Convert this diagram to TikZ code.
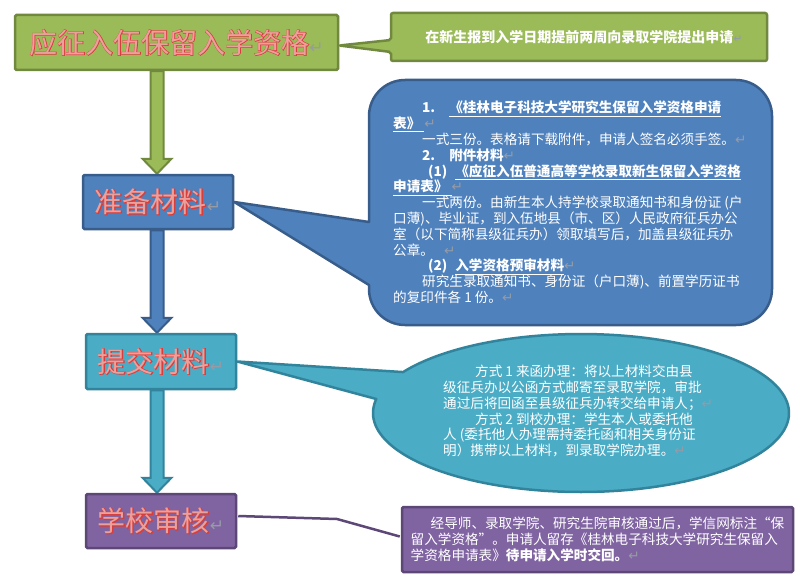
\documentclass[tikz,border=0pt]{standalone}
\usepackage{fontspec}
\setmainfont{Noto Sans CJK SC}
\newfontfamily\symfont{DejaVu Sans}
\newfontfamily\thickcjk[FakeBold=3.5]{Noto Sans CJK SC}
\usetikzlibrary{calc,backgrounds}
\definecolor{gfill}{HTML}{9BBB59}
\definecolor{gline}{HTML}{71893F}
\definecolor{bfill}{HTML}{4F81BD}
\definecolor{bline}{HTML}{385D8A}
\definecolor{tfill}{HTML}{4BACC6}
\definecolor{tline}{HTML}{31849B}
\definecolor{pfill}{HTML}{8064A2}
\definecolor{pline}{HTML}{5C4776}
\definecolor{titlered}{RGB}{214,62,62}
\definecolor{titlepink}{RGB}{236,160,155}
\definecolor{retgray}{RGB}{150,155,165}
\newcommand\retmark[1][]{{\symfont\mdseries\color{retgray}#1↵}}
\newcommand\outlined[1]{{\color{titlered}\rlap{\thickcjk #1}}{\color{titlepink}#1}}
\newcommand\blockarrow[3]{%
  \draw[#3, line width=2pt, line join=miter]
    ($(#1)+(-6.5,0)$) -- ($(#2)+(-6.5,-15)$) -- ($(#2)+(-14.5,-15)$) -- (#2)
    -- ($(#2)+(14.5,-15)$) -- ($(#2)+(6.5,-15)$) -- ($(#1)+(6.5,0)$) -- cycle;}
\begin{document}
\begin{tikzpicture}[x=1pt,y=-1pt,
  stagebox/.style={draw, line width=2.5pt, rounded corners=1.5pt, inner sep=0pt,
    minimum width=150, minimum height=54, font=\fontsize{28}{30}\selectfont},
  bodytext/.style={text=white, font=\fontsize{13.6}{15.8}\selectfont, align=left, inner sep=0pt},
]
\useasboundingbox (0,0) rectangle (805,583);

% stage boxes
\node[stagebox, fill=gfill, draw=gline, minimum width=323, minimum height=55] (b1) at (176.5,42.5)
  {\outlined{应征入伍保留入学资格}\retmark[\fontsize{17}{17}\selectfont]};
\node[stagebox, fill=bfill, draw=bline] (b2) at (158,202)
  {\outlined{准备材料}\retmark[\fontsize{17}{17}\selectfont]};
\node[stagebox, fill=tfill, draw=tline, minimum height=55] (b3) at (161,361.5)
  {\outlined{提交材料}\retmark[\fontsize{17}{17}\selectfont]};
\node[stagebox, fill=pfill, draw=pline] (b4) at (161,521)
  {\outlined{学校审核}\retmark[\fontsize{17}{17}\selectfont]};

% callout texts
\node[text=white, inner sep=0pt, font=\bfseries\fontsize{14}{16}\selectfont] (gtext) at (584,37)
  {在新生报到入学日期提前两周向录取学院提出申请\retmark[\fontsize{11}{11}\selectfont]};

\node[bodytext, anchor=north west] (btext) at (393,101) {%
\hspace*{29pt}\textbf{1.\hspace{14pt}\underline{《桂林电子科技大学研究生保留入学资格申请}}\\
\textbf{\underline{表》\hspace{4pt}}}\retmark\\
\hspace*{29pt}一式三份。表格请下载附件，申请人签名必须手签。\retmark\\
\hspace*{29pt}\textbf{2.\hspace{14pt}附件材料}\retmark\\
\hspace*{35pt}\textbf{(1)\hspace{8pt}\underline{《应征入伍普通高等学校录取新生保留入学资格}}\\
\textbf{\underline{申请表》\hspace{4pt}}}\retmark\\
\hspace*{29pt}一式两份。由新生本人持学校录取通知书和身份证 (户\\
口薄)、毕业证，到入伍地县（市、区）人民政府征兵办公\\
室（以下简称县级征兵办）领取填写后，加盖县级征兵办\\
公章。\hspace{10pt}\retmark\\
\hspace*{35pt}\textbf{(2)\hspace{8pt}\underline{入学资格预审材料}}\retmark\\
\hspace*{29pt}研究生录取通知书、身份证（户口薄)、前置学历证书\\
的复印件各 1 份。\retmark};

\node[bodytext, anchor=north west] (ttext) at (443,365) {%
\hspace*{32pt}方式 1 来函办理：将以上材料交由县\\
级征兵办以公函方式邮寄至录取学院，审批\\
通过后将回函至县级征兵办转交给申请人；\retmark\\
\hspace*{32pt}方式 2 到校办理：学生本人或委托他\\
人 (委托他人办理需持委托函和相关身份证\\
明）携带以上材料，到录取学院办理。\retmark};

\node[bodytext, draw=pline, fill=pfill, line width=2.5pt, rounded corners=1.5pt,
      minimum width=391, minimum height=65] (pc) at (597.5,539.5) {%
\hspace*{20pt}经导师、录取学院、研究生院审核通过后，学信网标注“保\\
留入学资格”。申请人留存《桂林电子科技大学研究生保留入\\
学资格申请表》\textbf{待申请入学时交回。}\retmark};

% helper coordinates
\coordinate (col) at (157,0);
\coordinate (a1s) at (b1.south -| col);
\coordinate (a1e) at (b2.north -| col);
\coordinate (a2s) at (b2.south -| col);
\coordinate (a2e) at (b3.north -| col);
\coordinate (a3s) at (b3.south -| col);
\coordinate (a3e) at (b4.north -| col);
\coordinate (bend) at (337,519);

\begin{pgfonlayer}{background}
\fill[white] (0,0) rectangle (805,583);
% green callout
\draw[fill=gfill, draw=gline, line width=2.5pt, rounded corners=2]
  (391,40) -- ($(b1.east)+(0,3)$) -- (391,52) -- (391,61) -- (767,61) -- (767,13) -- (391,13) -- cycle;
% blue rounded callout
\draw[fill=bfill, draw=bline, line width=2.5pt, line join=round]
  (369,222) -- (369,116) .. controls (369,96.1) and (385.1,80) .. (405,80)
  -- (736,80) .. controls (755.9,80) and (772,96.1) .. (772,116)
  -- (772,289) .. controls (772,308.9) and (755.9,325) .. (736,325)
  -- (405,325) .. controls (385.1,325) and (369,308.9) .. (369,289)
  -- (369,285) -- (b2.east) -- cycle;
% teal oval callout
\draw[fill=tfill, draw=tline, line width=2.5pt, line join=round]
  plot[domain=211.2:550.2, samples=160, variable=\t] ({581+208*cos(\t)},{413+79*sin(\t)})
  -- (b3.east) -- cycle;
% purple line callout
\draw[pline, line width=2.5pt] ($(b4.east)+(1,-5)$) -- (bend) -- ($(pc.west)+(-1,-3)$);
% block arrows
\blockarrow{a1s}{a1e}{fill=gfill, draw=gline}
\blockarrow{a2s}{a2e}{fill=bfill, draw=bline}
\blockarrow{a3s}{a3e}{fill=tfill, draw=tline}
\end{pgfonlayer}
\end{tikzpicture}
\end{document}
